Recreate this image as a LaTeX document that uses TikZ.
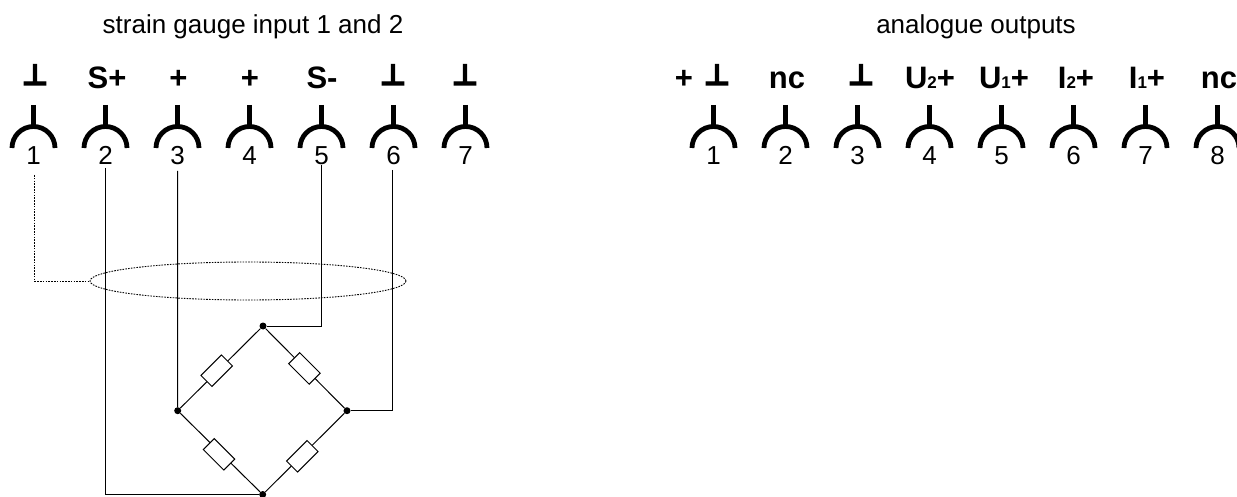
\documentclass[tikz,border=0pt]{standalone}
\usepackage{fontspec}
\usetikzlibrary{shapes.geometric}
\setmainfont{Liberation Sans}
\newfontfamily\gndfont[FakeBold=4]{DejaVu Sans}
\newcommand{\gnd}{{\gndfont\fontsize{29}{29}\selectfont ⊥}}
\newcommand{\subtxt}[1]{{\fontsize{17}{17}\selectfont #1}}
\tikzset{
 title/.style={font=\fontsize{26}{28}\selectfont,anchor=base,inner sep=0pt},
 pinlabel/.style={font=\fontsize{31}{32}\selectfont\bfseries,anchor=base,inner sep=0pt},
 pinnum/.style={font=\fontsize{26}{28}\selectfont,anchor=base,inner sep=0pt},
 socket/.style={line width=4.8pt},
 wire/.style={line width=1pt},
 shield/.style={line width=0.9pt,dash pattern=on 1.6pt off 1.2pt},
 junction/.style={circle,fill=black,inner sep=0pt,minimum size=7pt},
 resistor/.style={draw,fill=white,line width=1pt,minimum width=29pt,minimum height=15.5pt,inner sep=0pt},
}
\begin{document}
\begin{tikzpicture}[x=1pt,y=-1pt]
\useasboundingbox (0,0) rectangle (1237,497);
\node[title] at (253,33.5) {strain gauge input 1 and 2};
\node[title] at (976,33.5) {analogue outputs};
% sockets
\foreach \n/\x in {1/33.5,2/105.5,3/177.5,4/249.5,5/321.5,6/393.5,7/465.5}{
  \draw[socket] (\x,105) -- (\x,126);
  \draw[socket] (\x-21.5,148) arc[start angle=180,end angle=360,radius=21.5];
  \node[pinnum] (a\n) at (\x,165) {\n};
}
\foreach \n/\x in {1/713.5,2/785.5,3/857.5,4/929.5,5/1001.5,6/1073.5,7/1145.5,8/1217.5}{
  \draw[socket] (\x,105) -- (\x,126);
  \draw[socket] (\x-21.5,148) arc[start angle=180,end angle=360,radius=21.5];
  \node[pinnum] (b\n) at (\x,165) {\n};
}
% labels
\node[pinlabel] (l1) at (35,85) {\gnd};
\node[pinlabel] (l2) at (107,88.5) {S+};
\node[pinlabel] (l3) at (178.5,88.5) {+};
\node[pinlabel] (l4) at (250,88.5) {+};
\node[pinlabel] (l5) at (322,88.5) {S-};
\node[pinlabel] (l6) at (393,85) {\gnd};
\node[pinlabel] (l7) at (465,85) {\gnd};
\node[pinlabel] (r0) at (684,88.5) {+};
\node[pinlabel] (r1) at (717,85) {\gnd};
\node[pinlabel] (r2) at (787,88.5) {nc};
\node[pinlabel] (r3) at (861,85) {\gnd};
\node[pinlabel] (r4) at (930,88.5) {U\subtxt{2}+};
\node[pinlabel] (r5) at (1004,88.5) {U\subtxt{1}+};
\node[pinlabel] (r6) at (1076,88.5) {I\subtxt{2}+};
\node[pinlabel] (r7) at (1147,88.5) {I\subtxt{1}+};
\node[pinlabel] (r8) at (1219,88.5) {nc};
% bridge
\node[junction] (top) at (263,326) {};
\node[junction] (left) at (177.7,410.7) {};
\node[junction] (right) at (347,410.7) {};
\node[junction] (bot) at (262.7,494.5) {};
\draw[wire] (top) -- (left) (top) -- (right) (left) -- (bot) (right) -- (bot);
\node[resistor,rotate=45] (r-tl) at (216.7,370.7) {};
\node[resistor,rotate=-45] (r-tr) at (304.4,368.4) {};
\node[resistor,rotate=-45] (r-bl) at (219,454.3) {};
\node[resistor,rotate=45] (r-br) at (302.3,456.3) {};
% shield
\node[draw,shield,ellipse,minimum width=316pt,minimum height=38pt,inner sep=0pt] (sh) at (248,281) {};
\coordinate (d1) at (34,175);
\draw[shield] (d1) |- (sh.west);
% wires
\draw[wire] (105.5,168) |- (bot);
\draw[wire] (177.5,171) -- (left);
\draw[wire] (321,165) |- (top);
\draw[wire] (392,170) |- (right);
\end{tikzpicture}
\end{document}
